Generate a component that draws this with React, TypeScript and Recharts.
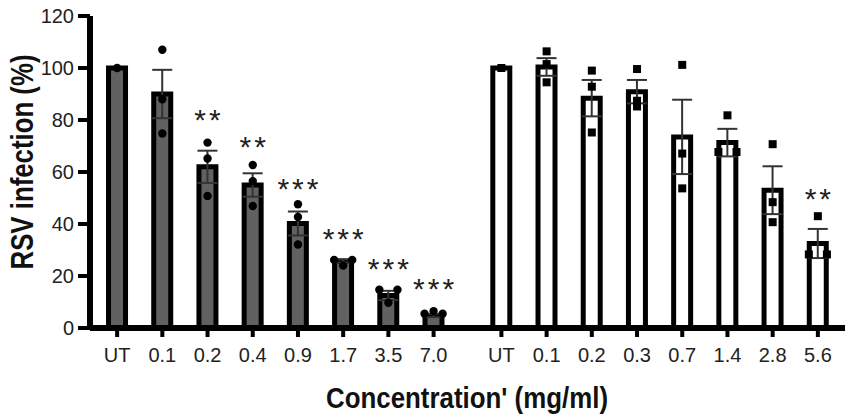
import React from "react";
import { ComposedChart, Bar, Cell, ErrorBar, Scatter, XAxis, YAxis, Label } from "recharts";

// doses per panel
const leftDoses = ["UT", "0.1", "0.2", "0.4", "0.9", "1.7", "3.5", "7.0"];
const rightDoses = ["UT", "0.1", "0.2", "0.3", "0.7", "1.4", "2.8", "5.6"];

// mean infection (%) and SEM
const leftMean = [100, 90, 62, 55, 40.2, 25.8, 12.5, 4.8];
const leftSem = [0, 9.3, 6.2, 4.5, 4.6, 0.6, 1.8, 0.6];
const rightMean = [100, 100.4, 88.4, 90.9, 73.5, 71.3, 53, 32.5];
const rightSem = [0, 3.4, 7, 4.5, 14.3, 5.3, 9.2, 5.6];

// replicates
const leftPoints = [
  [100],
  [107, 88, 74.8],
  [71.3, 65.2, 50.8],
  [62.7, 56.5, 46.9],
  [47.6, 42.7, 32.1],
  [26.2, 24, 26.2],
  [14.7, 14.7, 9.7],
  [5.5, 6.5, 5.5],
];
const rightPoints = [
  [100],
  [106.4, 101.5, 94.5],
  [99, 92.8, 75.2],
  [99.6, 87.4, 85.2],
  [101.2, 67.1, 53.7],
  [81.8, 67.7, 67.7],
  [70.7, 48.4, 40.7],
  [43, 28.3, 28.3],
];

// significance marks and the height they sit at
const leftStars = ["", "", "**", "**", "***", "***", "***", "***"];
const leftStarLevel = [0, 0, 82.1, 71.6, 55.2, 36.3, 24.5, 16.8];
const rightStars = ["", "", "", "", "", "", "", "**"];
const rightStarLevel = [0, 0, 0, 0, 0, 0, 0, 51.7];

const yTicks = [0, 20, 40, 60, 80, 100, 120];
const groupGap = 1.5;

const font = "'Liberation Sans', Arial, sans-serif";
const rightStart = leftDoses.length - 1 + groupGap;
const xDomain = [-0.6, 16.1];

const barRows = [
  ...leftDoses.map((d, i) => ({ pos: i, label: d, mean: leftMean[i], sem: leftSem[i], left: true })),
  ...rightDoses.map((d, i) => ({ pos: rightStart + i, label: d, mean: rightMean[i], sem: rightSem[i], left: false })),
];

// spread overlapping replicates sideways like Prism does
function spread(values: number[]) {
  const order = values.map((_, i) => i).sort((a, b) => values[a] - values[b]);
  const offsets = values.map(() => 0);
  let start = 0;
  while (start < order.length) {
    let end = start;
    while (end + 1 < order.length && values[order[end + 1]] - values[order[end]] < 1) end++;
    const n = end - start + 1;
    if (n > 1) for (let k = 0; k < n; k++) offsets[order[start + k]] = (k - (n - 1) / 2) * 0.4;
    start = end + 1;
  }
  return offsets;
}

const pointRows: { pos: number; value: number; left: boolean }[] = [];
leftPoints.forEach((vals, i) => {
  const off = spread(vals);
  vals.forEach((v, k) => pointRows.push({ pos: i + off[k], value: v, left: true }));
});
rightPoints.forEach((vals, i) => {
  const off = spread(vals);
  vals.forEach((v, k) => pointRows.push({ pos: rightStart + i + off[k], value: v, left: false }));
});

const starRows = [
  ...leftStars.map((s, i) => ({ pos: i, level: leftStarLevel[i], text: s })),
  ...rightStars.map((s, i) => ({ pos: rightStart + i, level: rightStarLevel[i], text: s })),
].filter((r) => r.text);

const PointShape = (p: any) => {
  if (p.payload.left) return <circle cx={p.cx} cy={p.cy} r={4.2} fill="#000" />;
  return <rect x={p.cx - 4} y={p.cy - 4} width={8} height={8} fill="#000" />;
};

const StarShape = (p: any) => (
  <text
    x={p.cx + 1.5}
    y={p.cy + 15}
    textAnchor="middle"
    fontSize={30}
    letterSpacing={3}
    fontFamily={font}
    fill="#222"
  >
    {p.payload.text}
  </text>
);

const App: React.FC = () => {
  return (
    <div style={{ position: "absolute", left: 0, top: 0, width: 851, height: 419, background: "#fff" }}>
      <ComposedChart width={851} height={419} data={barRows} margin={{ top: 16, right: 6, bottom: 0, left: 0 }}>
        <XAxis
          type="number"
          dataKey="pos"
          domain={xDomain}
          allowDataOverflow
          ticks={barRows.map((r) => r.pos)}
          tickFormatter={(v) => barRows.find((r) => r.pos === v)?.label ?? ""}
          height={91}
          tickSize={9}
          tickMargin={11}
          axisLine={{ stroke: "#000", strokeWidth: 6 }}
          tickLine={{ stroke: "#000", strokeWidth: 4 }}
          tick={{ fill: "#222", fontSize: 20, fontFamily: font }}
        >
          <Label
            content={() => (
              <text
                x={467}
                y={408}
                textAnchor="middle"
                fontSize={29}
                fontWeight="bold"
                fontFamily={font}
                textLength={282}
                lengthAdjust="spacingAndGlyphs"
                fill="#111"
              >
                Concentration' (mg/ml)
              </text>
            )}
          />
        </XAxis>
        <XAxis xAxisId="pts" type="number" dataKey="pos" domain={xDomain} allowDataOverflow hide height={91} />
        <YAxis
          type="number"
          domain={[0, 120]}
          ticks={yTicks}
          width={90}
          tickSize={12}
          tickMargin={4}
          axisLine={{ stroke: "#000", strokeWidth: 6 }}
          tickLine={{ stroke: "#000", strokeWidth: 4 }}
          tick={{ fill: "#222", fontSize: 20, fontFamily: font }}
        >
          <Label
            content={() => (
              <text
                x={33}
                y={162}
                transform="rotate(-90, 33, 162)"
                textAnchor="middle"
                fontSize={31}
                fontWeight="bold"
                fontFamily={font}
                textLength={215}
                lengthAdjust="spacingAndGlyphs"
                fill="#111"
              >
                RSV infection (%)
              </text>
            )}
          />
        </YAxis>
        <Bar dataKey="mean" barSize={17} stroke="#000" strokeWidth={5} isAnimationActive={false}>
          {barRows.map((r, i) => (
            <Cell key={i} fill={r.left ? "#616161" : "#fff"} />
          ))}
          <ErrorBar dataKey="sem" width={10} strokeWidth={2} stroke="#333" direction="y" />
        </Bar>
        <Scatter xAxisId="pts" data={pointRows} dataKey="value" shape={PointShape} isAnimationActive={false} />
        <Scatter xAxisId="pts" data={starRows} dataKey="level" shape={StarShape} isAnimationActive={false} />
      </ComposedChart>
    </div>
  );
};

export default App;
